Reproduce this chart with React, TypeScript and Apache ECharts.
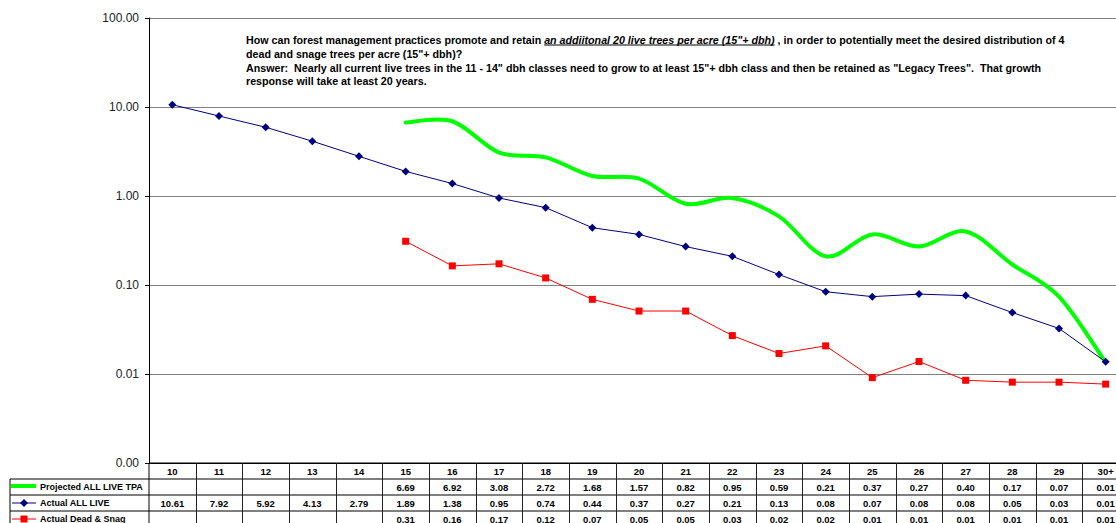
import React, { useEffect, useRef } from "react";
import * as echarts from "echarts";

const categories = ["10", "11", "12", "13", "14", "15", "16", "17", "18", "19", "20", "21", "22", "23", "24", "25", "26", "27", "28", "29", "30+"];
const projectedLive = [null, null, null, null, null, 6.69, 6.92, 3.08, 2.72, 1.68, 1.57, 0.82, 0.95, 0.59, 0.21, 0.37, 0.27, 0.40, 0.17, 0.074, 0.0135];
const actualLive = [10.61, 7.92, 5.92, 4.13, 2.79, 1.89, 1.38, 0.95, 0.74, 0.44, 0.37, 0.27, 0.21, 0.131, 0.084, 0.074, 0.079, 0.076, 0.049, 0.0325, 0.0137];
const deadSnag = [null, null, null, null, null, 0.31, 0.164, 0.173, 0.12, 0.069, 0.051, 0.051, 0.027, 0.017, 0.0207, 0.0091, 0.0138, 0.0085, 0.0081, 0.0081, 0.0077];
const seriesNames = ["Projected ALL LIVE TPA", "Actual ALL LIVE", "Actual Dead & Snag"];
const yTicks = [0.001, 0.01, 0.1, 1, 10, 100];

const titleLine1a = "How can forest management practices promote and retain ";
const titleLine1b = "an addiitonal 20 live trees per acre (15\"+ dbh)";
const titleLine1c = " , in order to potentially meet the desired distribution of 4";
const titleLine2 = "dead and snage trees per acre (15\"+ dbh)?";
const titleLine3 = "Answer:  Nearly all current live trees in the 11 - 14\" dbh classes need to grow to at least 15\"+ dbh class and then be retained as \"Legacy Trees\".  That growth";
const titleLine4 = "response will take at least 20 years.";

const FONT = "Liberation Sans";
const GREEN = "#00ff00";
const NAVY = "#000080";
const RED = "#ff0000";
const ANN_SIZE = 10.7;
const TABLE_SIZE = 9.5;
const LEGEND_SIZE = 9;

function fmt(v: number | null) {
  return v == null ? "" : v.toFixed(2);
}

// projected series as [categoryIndex, value] pairs for the custom (Excel-style smoothed) line
const projectedData = projectedLive
  .map((v, i) => (v == null ? null : [i, v]))
  .filter((d) => d != null) as number[][];

export default function App() {
  const ref = useRef<HTMLDivElement>(null);
  useEffect(() => {
    const chart = echarts.init(ref.current!, null, { renderer: "svg" });
    chart.setOption({
      animation: false,
      backgroundColor: "#ffffff",
      grid: { left: 149, top: 18, width: 980, height: 445 },
      xAxis: {
        type: "category",
        data: categories,
        boundaryGap: true,
        axisLabel: { show: false },
        axisTick: { show: false },
        axisLine: { show: true, lineStyle: { color: "#000", width: 1 } },
        splitLine: { show: false },
      },
      yAxis: {
        type: "log",
        logBase: 10,
        min: yTicks[0],
        max: yTicks[yTicks.length - 1],
        axisLine: { show: true, lineStyle: { color: "#000", width: 1 } },
        axisTick: { show: true, length: 4, inside: false, lineStyle: { color: "#000" } },
        axisLabel: {
          formatter: (v: number) => v.toFixed(2),
          fontFamily: FONT,
          fontSize: 12,
          color: "#222",
          margin: 10,
        },
        splitLine: { show: true, lineStyle: { color: "#808080", width: 1 } },
      },
      series: [
        {
          name: seriesNames[0],
          type: "custom",
          data: projectedData,
          encode: { x: 0, y: 1 },
          z: 2,
          renderItem: (params: any, api: any) => {
            if (params.dataIndex !== 0) return null;
            const pts = projectedData.map((d) => api.coord(d));
            const n = pts.length;
            let d = `M${pts[0][0]},${pts[0][1]}`;
            for (let i = 0; i < n - 1; i++) {
              const p0 = pts[Math.max(0, i - 1)];
              const p1 = pts[i];
              const p2 = pts[i + 1];
              const p3 = pts[Math.min(n - 1, i + 2)];
              const c1x = p1[0] + (p2[0] - p0[0]) / 6;
              const c1y = p1[1] + (p2[1] - p0[1]) / 6;
              const c2x = p2[0] - (p3[0] - p1[0]) / 6;
              const c2y = p2[1] - (p3[1] - p1[1]) / 6;
              d += ` C${c1x},${c1y} ${c2x},${c2y} ${p2[0]},${p2[1]}`;
            }
            return {
              type: "path",
              shape: { pathData: d },
              style: { stroke: GREEN, lineWidth: 4, fill: "none", lineJoin: "round", lineCap: "round" },
            };
          },
        },
        {
          name: seriesNames[1],
          type: "line",
          data: actualLive,
          symbol: "diamond",
          symbolSize: 8,
          lineStyle: { color: NAVY, width: 1 },
          itemStyle: { color: NAVY },
          z: 3,
        },
        {
          name: seriesNames[2],
          type: "line",
          data: deadSnag,
          symbol: "rect",
          symbolSize: 7,
          lineStyle: { color: RED, width: 1 },
          itemStyle: { color: RED },
          z: 4,
        },
      ],
    });

    const xs = categories.map((c) => chart.convertToPixel({ xAxisIndex: 0 }, c) as number);
    const yBottom = chart.convertToPixel({ yAxisIndex: 0 }, yTicks[0]) as number;
    const half = (xs[1] - xs[0]) / 2;
    const leftX = xs[0] - half;
    const rightX = xs[xs.length - 1] + half;
    const rowH = 16;
    const rows = [yBottom, yBottom + rowH, yBottom + 2 * rowH, yBottom + 3 * rowH, yBottom + 4 * rowH];
    const els: any[] = [];
    const line = (x1: number, y1: number, x2: number, y2: number, color = "#000", w = 1) =>
      els.push({ type: "line", silent: true, shape: { x1, y1, x2, y2 }, style: { stroke: color, lineWidth: w }, z: 10 });
    line(leftX, rows[0], rightX, rows[0]);
    for (let r = 1; r < 4; r++) line(10, rows[r], rightX, rows[r]);
    line(10, rows[1], 10, rows[4]);
    line(leftX, rows[0], leftX, rows[4]);
    for (let i = 0; i < xs.length - 1; i++) {
      const bx = Math.round((xs[i] + xs[i + 1]) / 2) + 0.5;
      line(bx, rows[0], bx, rows[4], "#222");
    }
    line(rightX, rows[0], rightX, rows[4], "#222");
    const cellText = (text: string, x: number, y: number, align = "center", size = TABLE_SIZE) =>
      els.push({
        type: "text",
        silent: true,
        x,
        y,
        style: { text, fill: "#000", font: `bold ${size}px "${FONT}"`, align, verticalAlign: "middle" },
        z: 11,
      });
    categories.forEach((c, i) => cellText(c, xs[i], (rows[0] + rows[1]) / 2));
    const dataRows = [projectedLive, actualLive, deadSnag];
    dataRows.forEach((arr, r) => {
      const cy = (rows[r + 1] + rows[r + 2]) / 2;
      arr.forEach((v, i) => cellText(fmt(v), xs[i], cy));
      cellText(seriesNames[r], 40, cy, "left", LEGEND_SIZE);
    });
    const k1 = (rows[1] + rows[2]) / 2;
    const k2 = (rows[2] + rows[3]) / 2;
    const k3 = (rows[3] + rows[4]) / 2;
    line(11, k1 - 1, 36, k1 - 1, GREEN, 4);
    line(12, k2, 36, k2, NAVY, 1);
    els.push({ type: "polygon", silent: true, shape: { points: [[24, k2 - 4], [28, k2], [24, k2 + 4], [20, k2]] }, style: { fill: NAVY }, z: 12 });
    line(12, k3, 36, k3, RED, 1);
    els.push({ type: "rect", silent: true, shape: { x: 20.5, y: k3 - 3.5, width: 7, height: 7 }, style: { fill: RED }, z: 12 });

    const ctx = document.createElement("canvas").getContext("2d")!;
    ctx.font = `bold ${ANN_SIZE}px "${FONT}"`;
    const wA = ctx.measureText(titleLine1a).width;
    ctx.font = `italic bold ${ANN_SIZE}px "${FONT}"`;
    const wB = ctx.measureText(titleLine1b).width;
    const tx = 246;
    const lineYs = [40, 54, 67.5, 81];
    const annText = (text: string, x: number, y: number, italic = false) =>
      els.push({
        type: "text",
        silent: true,
        x,
        y,
        style: { text, fill: "#000", font: `${italic ? "italic " : ""}bold ${ANN_SIZE}px "${FONT}"`, align: "left", verticalAlign: "middle" },
        z: 11,
      });
    annText(titleLine1a, tx, lineYs[0]);
    annText(titleLine1b, tx + wA, lineYs[0], true);
    annText(titleLine1c, tx + wA + wB, lineYs[0]);
    line(tx + wA, lineYs[0] + 5, tx + wA + wB, lineYs[0] + 5, "#000", 1);
    annText(titleLine2, tx, lineYs[1]);
    annText(titleLine3, tx, lineYs[2]);
    annText(titleLine4, tx, lineYs[3]);

    chart.setOption({ graphic: els });
    return () => chart.dispose();
  }, []);
  return (
    <div style={{ position: "fixed", left: 0, top: 0, width: 1116, height: 523, overflow: "hidden", background: "#fff" }}>
      <div ref={ref} style={{ width: 1140, height: 523 }} />
    </div>
  );
}
